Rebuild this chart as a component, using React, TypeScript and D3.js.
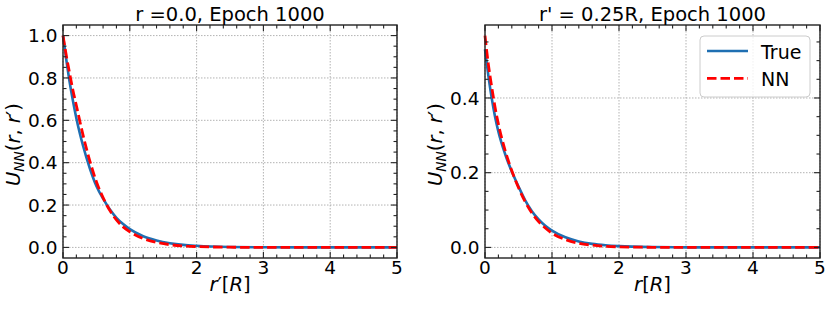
import { useRef, useEffect } from 'react';
import * as d3 from 'd3';

const rGrid = [0, 0.05, 0.1, 0.15, 0.2, 0.3, 0.4, 0.5, 0.6, 0.7, 0.8, 0.9, 1.0, 1.2, 1.4, 1.6, 1.8, 2.0, 2.5, 3, 4, 5];

// left panel: r = 0.0
const trueLeft = [1.0, 0.885, 0.78, 0.69, 0.61, 0.48, 0.375, 0.29, 0.23, 0.18, 0.14, 0.11, 0.086, 0.053, 0.033, 0.02, 0.012, 0.0075, 0.002, 0.0006, 0.0001, 0];
const nnLeft = [1.0, 0.905, 0.82, 0.74, 0.67, 0.53, 0.41, 0.31, 0.235, 0.175, 0.13, 0.097, 0.074, 0.042, 0.024, 0.013, 0.007, 0.004, 0.001, 0, 0, 0];

// right panel: r' = 0.25R
const trueRight = [0.53, 0.46, 0.4, 0.35, 0.31, 0.25, 0.203, 0.163, 0.126, 0.097, 0.075, 0.058, 0.045, 0.027, 0.016, 0.0095, 0.0057, 0.0034, 0.0009, 0.0002, 0, 0];
const nnRight = [0.567, 0.49, 0.43, 0.375, 0.33, 0.26, 0.205, 0.16, 0.122, 0.092, 0.069, 0.052, 0.038, 0.021, 0.011, 0.006, 0.003, 0.0015, 0.0003, 0, 0, 0];

const xTicks = [0, 1, 2, 3, 4, 5];
const yTicksLeft = [0, 0.2, 0.4, 0.6, 0.8, 1.0];
const yTicksRight = [0, 0.2, 0.4];
const legendLabels = ['True', 'NN'];

const BLUE = '#1f6fb2';
const RED = '#ff0000';
const FONT = '"DejaVu Sans", sans-serif';
const FS_TICK = 18.5;
const FS = 19.5;

// mathtext-ish label: list of [text, italic, kind]
function mathText(sel, parts, size) {
  parts.forEach(([t, it, kind]) => {
    const ts = sel.append('tspan').text(t).attr('font-style', it ? 'italic' : 'normal');
    if (kind === 'sub') ts.attr('font-size', size * 0.7).attr('dy', size * 0.22);
    else if (kind === 'back') ts.attr('dy', -size * 0.22);
  });
}

function drawPanel(svg, cfg) {
  const { left, right, top, bottom, yMax, yTicks, trueVals, nnVals, title, xlabel, ylabelX, legend } = cfg;
  const x = d3.scaleLinear().domain([0, 5]).range([left, right]);
  const y = d3.scaleLinear().domain([-0.05 * yMax, 1.05 * yMax]).range([bottom, top]);
  const g = svg.append('g');

  // grid
  xTicks.forEach(t => {
    g.append('line').attr('x1', x(t)).attr('x2', x(t)).attr('y1', top).attr('y2', bottom)
      .attr('stroke', '#aaaaaa').attr('stroke-width', 0.9).attr('stroke-dasharray', '1.5,1.5');
  });
  yTicks.forEach(t => {
    g.append('line').attr('x1', left).attr('x2', right).attr('y1', y(t)).attr('y2', y(t))
      .attr('stroke', '#aaaaaa').attr('stroke-width', 0.9).attr('stroke-dasharray', '1.5,1.5');
  });

  // curves
  const line = d3.line().x((d, i) => x(rGrid[i])).y(d => y(d)).curve(d3.curveMonotoneX);
  g.append('path').attr('d', line(trueVals)).attr('fill', 'none').attr('stroke', BLUE).attr('stroke-width', 2.6);
  g.append('path').attr('d', line(nnVals)).attr('fill', 'none').attr('stroke', RED).attr('stroke-width', 2.8)
    .attr('stroke-dasharray', '9.5,4');

  // ticks, inward on all four sides
  const tk = (x1, y1, x2, y2) => g.append('line').attr('x1', x1).attr('y1', y1).attr('x2', x2).attr('y2', y2)
    .attr('stroke', '#222').attr('stroke-width', 1.1);
  d3.range(0, 5.001, 0.2).forEach(t => {
    const major = Math.abs(t - Math.round(t)) < 1e-6;
    const L = major ? 6 : 3.5;
    tk(x(t), bottom, x(t), bottom - L);
    tk(x(t), top, x(t), top + L);
  });
  const [y0, y1] = y.domain();
  d3.range(0, y1, 0.05).forEach(t => {
    if (t < y0) return;
    const major = Math.abs(t / 0.2 - Math.round(t / 0.2)) < 1e-6;
    const L = major ? 6 : 3.5;
    tk(left, y(t), left + L, y(t));
    tk(right, y(t), right - L, y(t));
  });

  // frame
  g.append('rect').attr('x', left).attr('y', top).attr('width', right - left).attr('height', bottom - top)
    .attr('fill', 'none').attr('stroke', '#222').attr('stroke-width', 1.4);

  // tick labels
  xTicks.forEach(t => {
    g.append('text').attr('x', x(t)).attr('y', bottom + 15.5).attr('text-anchor', 'middle')
      .attr('font-family', FONT).attr('font-size', FS_TICK).attr('fill', '#000').text(String(t));
  });
  yTicks.forEach(t => {
    g.append('text').attr('x', left - 5.5).attr('y', y(t) + 6.7).attr('text-anchor', 'end')
      .attr('font-family', FONT).attr('font-size', FS_TICK).attr('fill', '#000').text(t.toFixed(1));
  });

  // title
  g.append('text').attr('x', (left + right) / 2).attr('y', 20.5).attr('text-anchor', 'middle')
    .attr('font-family', FONT).attr('font-size', FS).attr('fill', '#000').text(title);

  // x label
  const xl = g.append('text').attr('x', (left + right) / 2).attr('y', 291).attr('text-anchor', 'middle')
    .attr('font-family', FONT).attr('font-size', FS).attr('fill', '#000');
  mathText(xl, xlabel, FS);

  // y label
  const cy = (top + bottom) / 2 + 3;
  const yl = g.append('text').attr('transform', `translate(${ylabelX},${cy}) rotate(-90)`)
    .attr('text-anchor', 'middle').attr('font-family', FONT).attr('font-size', FS).attr('fill', '#000');
  mathText(yl, [['U', true], ['NN', true, 'sub'], ['(', false, 'back'], ['r', true], [', ', false], ['r', true], ['′', false], [')', false]], FS);

  if (legend) {
    const lg = g.append('g');
    lg.append('rect').attr('x', 700).attr('y', 36).attr('width', 110).attr('height', 61).attr('rx', 4)
      .attr('fill', 'rgba(255,255,255,0.8)').attr('stroke', '#cccccc').attr('stroke-width', 1);
    legendLabels.forEach((lab, i) => {
      const ly = 51 + i * 27.3;
      const ln = lg.append('line').attr('x1', 707).attr('x2', 748).attr('y1', ly).attr('y2', ly)
        .attr('stroke', i === 0 ? BLUE : RED).attr('stroke-width', i === 0 ? 2.6 : 2.8);
      if (i === 1) ln.attr('stroke-dasharray', '9.5,4');
      lg.append('text').attr('x', 761).attr('y', ly + 7.5).attr('font-family', FONT).attr('font-size', 19)
        .attr('fill', '#000').text(lab);
    });
  }
}

export default function App() {
  const svgRef = useRef(null);

  useEffect(() => {
    const svg = d3.select(svgRef.current);
    svg.selectAll('*').remove();
    svg.append('rect').attr('width', 831).attr('height', 310).attr('fill', '#fff');

    drawPanel(svg, {
      left: 63, right: 397, top: 25, bottom: 258,
      yMax: d3.max([...trueLeft, ...nnLeft]), yTicks: yTicksLeft,
      trueVals: trueLeft, nnVals: nnLeft,
      title: 'r =0.0, Epoch 1000',
      xlabel: [['r', true], ['′', false], ['[', false], ['R', true], [']', false]],
      ylabelX: 20, legend: false,
    });
    drawPanel(svg, {
      left: 485, right: 820, top: 25, bottom: 258,
      yMax: d3.max([...trueRight, ...nnRight]), yTicks: yTicksRight,
      trueVals: trueRight, nnVals: nnRight,
      title: "r' = 0.25R, Epoch 1000",
      xlabel: [['r', true], ['[', false], ['R', true], [']', false]],
      ylabelX: 442, legend: true,
    });
  }, []);

  return (
    <div style={{ position: 'fixed', left: 0, top: 0 }}>
      <svg ref={svgRef} width={831} height={310} style={{ display: 'block' }} />
    </div>
  );
}
